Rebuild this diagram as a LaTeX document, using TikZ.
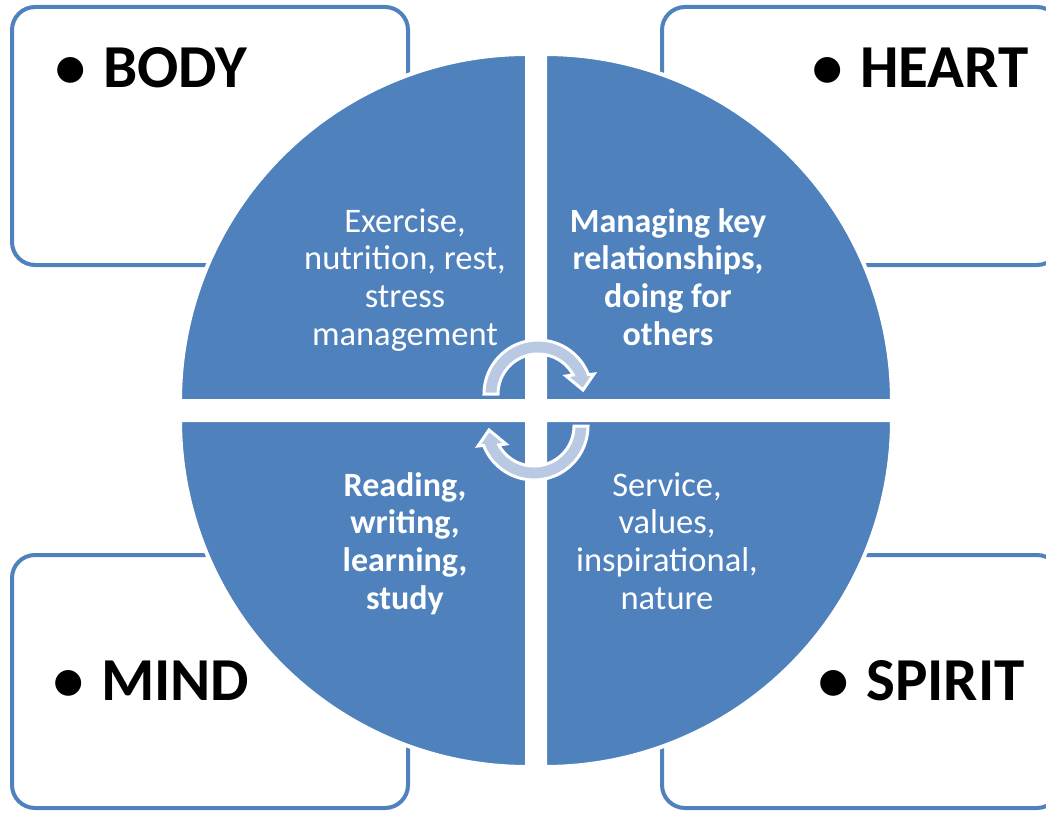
\documentclass[tikz,border=0pt]{standalone}
\usepackage{fontspec}
\setmainfont{Carlito}
\definecolor{qblue}{RGB}{79,129,189}
\definecolor{qlight}{RGB}{185,201,227}
\begin{document}
\begin{tikzpicture}[x=1pt,y=-1pt,
  box/.style={draw=qblue, line width=4pt, rounded corners=23pt, fill=white},
  quad/.style={fill=qblue, draw=white, line width=4pt, line join=miter},
  cyc/.style={fill=qlight, draw=white, line width=3pt, line join=miter},
  qtext/.style={text=white, align=center, font=\fontsize{34.5}{37.6}\selectfont, inner sep=0pt, anchor=base},
  qbold/.style={qtext, font=\fontsize{34}{37.6}\selectfont\bfseries},
  lab/.style={font=\fontsize{61}{70}\selectfont\bfseries, anchor=base west, inner sep=0pt}]
\useasboundingbox (0,0) rectangle (1046,813);
\clip (0,0) rectangle (1046,813);
% outer boxes
\draw[box] (12,7) rectangle (408,265);
\draw[box] (662,7) rectangle (1060,265);
\draw[box] (12,555) rectangle (408,808);
\draw[box] (662,555) rectangle (1060,808);
% quadrants
\draw[quad] (527,401) -- plot[domain=180:270, samples=90] ({527+347*cos(\x)}, {401+347*sin(\x)}) -- cycle;
\draw[quad] (545,401) -- plot[domain=270:360, samples=90] ({545+347*cos(\x)}, {401+347*sin(\x)}) -- cycle;
\draw[quad] (527,420) -- plot[domain=90:180, samples=90] ({527+347*cos(\x)}, {420+347*sin(\x)}) -- cycle;
\draw[quad] (545,420) -- plot[domain=0:90, samples=90] ({545+347*cos(\x)}, {420+347*sin(\x)}) -- cycle;
% circular arrows
\begin{scope}[shift={(538,394)}]
  \draw[cyc] plot[domain=180:339, samples=50] (\x:54) -- (56,-20) -- (45,-4) -- (28,-18) -- (331.6:40) -- plot[domain=331.6:180, samples=50] (\x:40) -- cycle;
\end{scope}
\begin{scope}[rotate around={180:(536,410)}]
 \begin{scope}[shift={(538,394)}]
  \draw[cyc] plot[domain=180:339, samples=50] (\x:54) -- (56,-20) -- (45,-4) -- (28,-18) -- (331.6:40) -- plot[domain=331.6:180, samples=50] (\x:40) -- cycle;
 \end{scope}
\end{scope}
% quadrant texts
\node[qtext] (tl) at (405,345) {Exercise,\\nutrition, rest,\\stress\\management};
\node[qbold] (tr) at (668,345) {Managing key\\relationships,\\doing for\\others};
\node[qbold] (bl) at (405,609) {Reading,\\writing,\\learning,\\study};
\node[qtext] (br) at (667,609) {Service,\\values,\\inspirational,\\nature};
% labels
\node[lab] (body) at (37,88) {\makebox[66pt]{•}BODY};
\node[lab] (heart) at (794,88) {\makebox[66pt]{•}HEART};
\node[lab] (mind) at (35,700) {\makebox[66pt]{•}MIND};
\node[lab] (spirit) at (800,700) {\makebox[66pt]{•}SPIRIT};
\end{tikzpicture}
\end{document}
